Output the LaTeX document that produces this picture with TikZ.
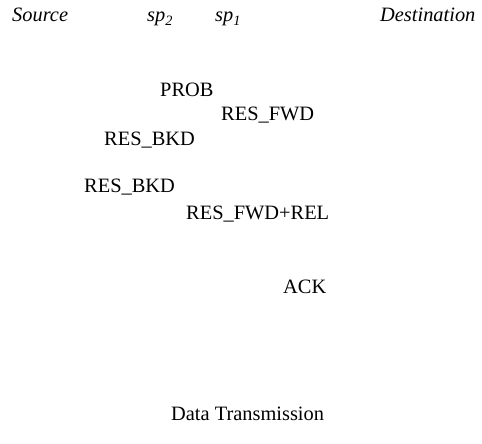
\documentclass[tikz,border=0pt]{standalone}
\usepackage{fontspec}
\setmainfont{Liberation Serif}
\begin{document}
\begin{tikzpicture}[x=1pt,y=-1pt,
  lbl/.style={inner sep=0pt,anchor=base west,font=\fontsize{20.4}{23}\selectfont},
  ent/.style={lbl,font=\fontsize{20.4}{23}\selectfont\itshape}]
\useasboundingbox (0,0) rectangle (482,444);
% entities along the path
\node[ent] (src) at (12,22) {Source};
\node[ent] (sp2) at (147,22) {sp\textsubscript{2}};
\node[ent] (sp1) at (215,22) {sp\textsubscript{1}};
\node[ent] (dst) at (380,22) {Destination};
% exchanged messages
\node[lbl] (prob) at (160,96) {PROB};
\node[lbl] (rfwd) at (221,121) {RES\_FWD};
\node[lbl] (rbkd1) at (104,145) {RES\_BKD};
\node[lbl] (rbkd2) at (84,192) {RES\_BKD};
\node[lbl] (rfwdrel) at (186,219) {RES\_FWD+REL};
\node[lbl] (ack) at (283,293) {ACK};
\node[lbl] (data) at (171,420) {Data Transmission};
\end{tikzpicture}
\end{document}
